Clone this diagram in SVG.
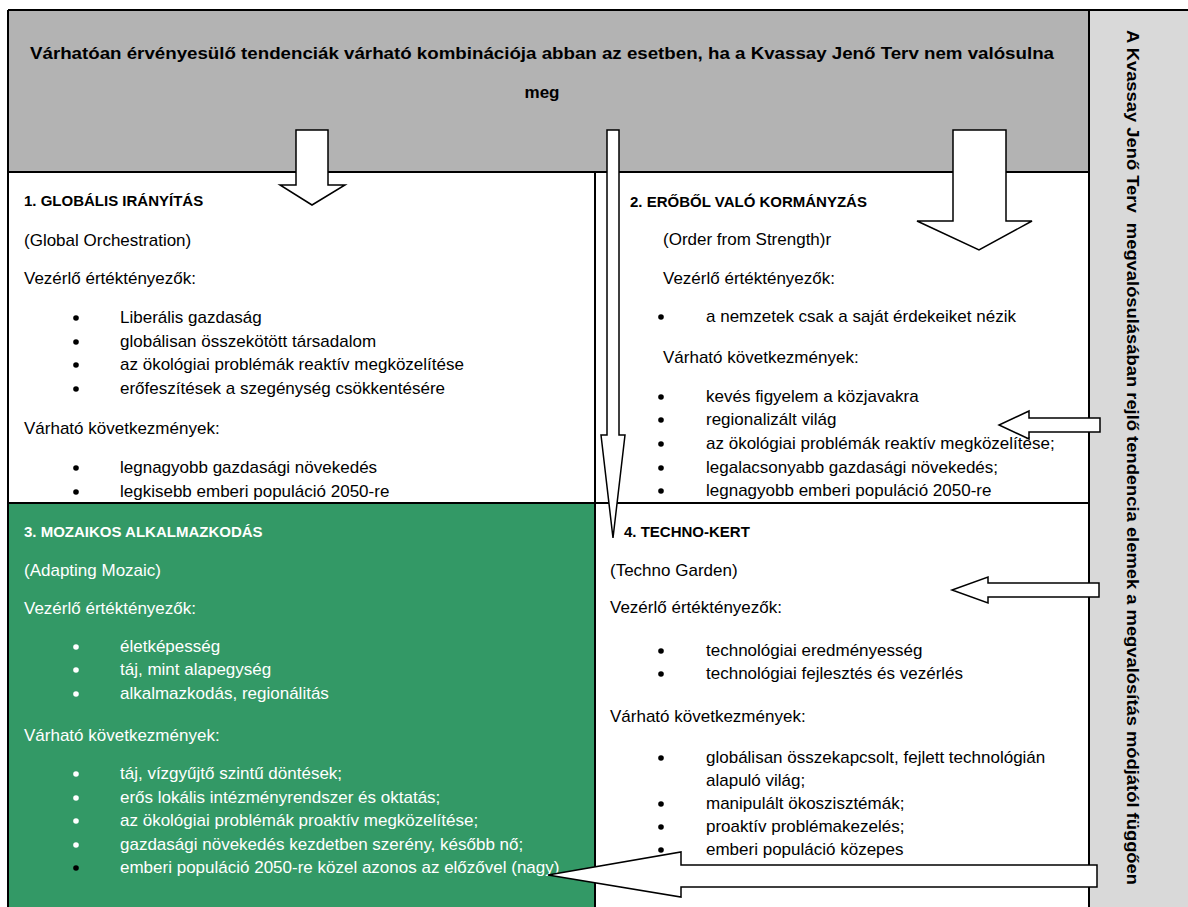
<svg xmlns="http://www.w3.org/2000/svg" width="1188" height="907" viewBox="0 0 1188 907">
<style>
.t{font-family:"Liberation Sans",Arial,sans-serif;font-size:17px;fill:#000}
.ti{font-size:15px;font-weight:bold}
.hd{font-size:17px;font-weight:bold}
.vt{font-size:16px;font-weight:bold}
.w{fill:#fff}
.ln{stroke:#000;stroke-width:2;fill:none}
.ar{fill:#fff;stroke:#000;stroke-width:1.5;stroke-linejoin:miter}
.dot{fill:#000}
.wdot{fill:#fff}
</style>
<rect width="1188" height="907" fill="#fff"/>
<g id="header">
<rect x="8" y="10" width="1081" height="162" fill="#b3b3b3"/>
<text class="t hd" x="542" y="59" text-anchor="middle" textLength="1024" lengthAdjust="spacingAndGlyphs">Várhatóan érvényesülő tendenciák várható kombinációja abban az esetben, ha a Kvassay Jenő Terv nem valósulna</text>
<text class="t hd" x="542" y="98" text-anchor="middle">meg</text>
</g>
<g id="sidebar">
<rect x="1089" y="10" width="99" height="897" fill="#d9d9d9"/>
<text class="t vt" transform="translate(1127,30) rotate(90)" textLength="855" lengthAdjust="spacingAndGlyphs">A Kvassay Jenő Terv&#160; megvalósulásában rejlő tendencia elemek a megvalósítás módjától függően</text>
</g>
<g id="cell1">
<rect x="8" y="172" width="587" height="331" fill="#fff"/>
<text class="t ti" x="24" y="206">1. GLOBÁLIS IRÁNYÍTÁS</text>
<text class="t" x="24" y="246">(Global Orchestration)</text>
<text class="t" x="24" y="284">Vezérlő értéktényezők:</text>
<circle class="dot" cx="76" cy="318" r="2.8"/><text class="t" x="120" y="323">Liberális gazdaság</text>
<circle class="dot" cx="76" cy="342" r="2.8"/><text class="t" x="120" y="347">globálisan összekötött társadalom</text>
<circle class="dot" cx="76" cy="365" r="2.8"/><text class="t" x="120" y="370">az ökológiai problémák reaktív megközelítése</text>
<circle class="dot" cx="76" cy="389" r="2.8"/><text class="t" x="120" y="394">erőfeszítések a szegénység csökkentésére</text>
<text class="t" x="24" y="434">Várható következmények:</text>
<circle class="dot" cx="76" cy="468" r="2.8"/><text class="t" x="120" y="473">legnagyobb gazdasági növekedés</text>
<circle class="dot" cx="76" cy="492" r="2.8"/><text class="t" x="120" y="497">legkisebb emberi populáció 2050-re</text>
</g>
<g id="cell2">
<rect x="595" y="172" width="494" height="331" fill="#fff"/>
<text class="t ti" x="630" y="207">2. ERŐBŐL VALÓ KORMÁNYZÁS</text>
<text class="t" x="663" y="245">(Order from Strength)r</text>
<text class="t" x="663" y="284">Vezérlő értéktényezők:</text>
<circle class="dot" cx="661" cy="317" r="2.8"/><text class="t" x="706" y="322">a nemzetek csak a saját érdekeiket nézik</text>
<text class="t" x="663" y="363">Várható következmények:</text>
<circle class="dot" cx="661" cy="397" r="2.8"/><text class="t" x="706" y="402">kevés figyelem a közjavakra</text>
<circle class="dot" cx="661" cy="420" r="2.8"/><text class="t" x="706" y="425">regionalizált világ</text>
<circle class="dot" cx="661" cy="444" r="2.8"/><text class="t" x="706" y="449">az ökológiai problémák reaktív megközelítése;</text>
<circle class="dot" cx="661" cy="468" r="2.8"/><text class="t" x="706" y="473">legalacsonyabb gazdasági növekedés;</text>
<circle class="dot" cx="661" cy="491" r="2.8"/><text class="t" x="706" y="496">legnagyobb emberi populáció 2050-re</text>
</g>
<g id="cell3">
<rect x="8" y="503" width="587" height="404" fill="#339966"/>
<text class="t ti w" x="24" y="537">3. MOZAIKOS ALKALMAZKODÁS</text>
<text class="t w" x="24" y="576">(Adapting Mozaic)</text>
<text class="t w" x="24" y="614">Vezérlő értéktényezők:</text>
<circle class="wdot" cx="76" cy="647" r="2.8"/><text class="t w" x="120" y="652">életképesség</text>
<circle class="wdot" cx="76" cy="670" r="2.8"/><text class="t w" x="120" y="675">táj, mint alapegység</text>
<circle class="wdot" cx="76" cy="694" r="2.8"/><text class="t w" x="120" y="699">alkalmazkodás, regionálitás</text>
<text class="t w" x="24" y="741">Várható következmények:</text>
<circle class="wdot" cx="76" cy="774" r="2.8"/><text class="t w" x="120" y="779">táj, vízgyűjtő szintű döntések;</text>
<circle class="wdot" cx="76" cy="798" r="2.8"/><text class="t w" x="120" y="803">erős lokális intézményrendszer és oktatás;</text>
<circle class="wdot" cx="76" cy="821" r="2.8"/><text class="t w" x="120" y="826">az ökológiai problémák proaktív megközelítése;</text>
<circle class="wdot" cx="76" cy="845" r="2.8"/><text class="t w" x="120" y="850">gazdasági növekedés kezdetben szerény, később nő;</text>
<circle class="dot" cx="76" cy="868" r="2.8"/><text class="t w" x="120" y="873">emberi populáció 2050-re közel azonos az előzővel (nagy)</text>
</g>
<g id="cell4">
<rect x="595" y="503" width="494" height="404" fill="#fff"/>
<text class="t ti" x="624" y="537">4. TECHNO-KERT</text>
<text class="t" x="610" y="576">(Techno Garden)</text>
<text class="t" x="610" y="613">Vezérlő értéktényezők:</text>
<circle class="dot" cx="661" cy="651" r="2.8"/><text class="t" x="706" y="656">technológiai eredményesség</text>
<circle class="dot" cx="661" cy="674" r="2.8"/><text class="t" x="706" y="679">technológiai fejlesztés és vezérlés</text>
<text class="t" x="610" y="722">Várható következmények:</text>
<circle class="dot" cx="661" cy="758" r="2.8"/><text class="t" x="706" y="763">globálisan összekapcsolt, fejlett technológián</text>
<text class="t" x="706" y="786">alapuló világ;</text>
<circle class="dot" cx="661" cy="804" r="2.8"/><text class="t" x="706" y="809">manipulált ökoszisztémák;</text>
<circle class="dot" cx="661" cy="827" r="2.8"/><text class="t" x="706" y="832">proaktív problémakezelés;</text>
<circle class="dot" cx="661" cy="850" r="2.8"/><text class="t" x="706" y="855">emberi populáció közepes</text>
</g>
<g id="grid">
<path class="ln" d="M8 10 H1188 M8 10 V907 M8 172 H1089 M8 503 H1089 M595 172 V907 M1089 10 V907"/>
</g>
<g id="connectors">
<path class="ar" d="M296 130 H328 V185 H345 L312 205 L280 185 H296 Z"/>
<path class="ar" d="M607 130 H619 V435 H625 L613 538 L601 435 H607 Z"/>
<path class="ar" d="M953 130 H1006 V221 H1032 L979 250 L917 221 H953 Z"/>
<path class="ar" d="M1100 418 H1029 V411 L999 425 L1029 439 V432 H1100 Z"/>
<path class="ar" d="M1099 583 H988 V577 L952 590 L988 603 V597 H1099 Z"/>
<path class="ar" d="M1097 865 H681 V852 L548 875 L681 897 V887 H1097 Z"/>
</g>
</svg>
